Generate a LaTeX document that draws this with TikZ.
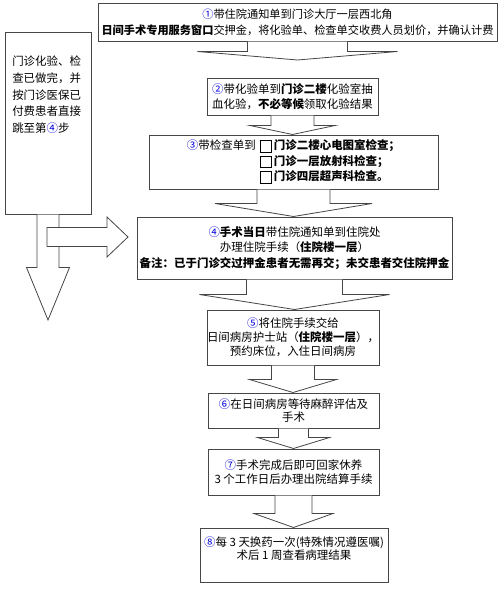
\documentclass[tikz,border=0pt]{standalone}
\usepackage{fontspec}
\setmainfont{Noto Sans CJK SC}
\usepackage{xcolor}
\usepackage{tikz}
\usetikzlibrary{calc}
\definecolor{linegray}{RGB}{70, 70, 70}
\definecolor{numblue}{RGB}{0, 0, 220}
\tikzset{
    box/.style = {rectangle, draw=linegray, fill=white, line width=0.75pt, align=center, inner sep=0pt,
                  font=\fontsize{8.6}{11.6}\selectfont},
    sidebox/.style = {rectangle, draw=linegray, fill=white, line width=0.75pt},
    sidetext/.style = {align=left, inner sep=0pt, font=\fontsize{8.6}{12.5}\selectfont},
    blockarrow/.style = {draw=linegray, fill=white, line width=0.6pt, line join=miter}
}
\newcommand{\num}[1]{\textcolor{numblue}{#1}}
\newcommand{\ckbox}{{\setlength{\fboxsep}{0pt}\setlength{\fboxrule}{0.6pt}\raisebox{-1.5pt}{\fbox{\rule{0pt}{8pt}\rule{8pt}{0pt}}}}}
% block arrow: from, to, shaft half width, head half width, shaft length (px)
\newcommand{\bigarrow}[5]{%
  \draw[blockarrow] let \p1 = (#1.south), \p2 = (#2) in
    ({\x1-#3*0.75pt},\y1) -- ({\x1-#3*0.75pt},{\y1-#5*0.75pt})
    -- ({\x1-#4*0.75pt},{\y1-#5*0.75pt}) -- (\x1,\y2)
    -- ({\x1+#4*0.75pt},{\y1-#5*0.75pt}) -- ({\x1+#3*0.75pt},{\y1-#5*0.75pt})
    -- ({\x1+#3*0.75pt},\y1);}

\begin{document}
\begin{tikzpicture}[x=0.75pt, y=-0.75pt]
\useasboundingbox (0,0) rectangle (500,590);

\node (b1) [box, minimum width=299.25pt, minimum height=28.5pt, font=\fontsize{8.4}{12}\selectfont] at (297.5,22)
  {\num{①}带住院通知单到门诊大厅一层西北角\\ \textbf{日间手术专用服务窗口}交押金，将化验单、检查单交收费人员划价，并确认计费};
\node (b2) [box, minimum width=128.25pt, minimum height=27.75pt] at (292.5,96.5)
  {\num{②}带化验单到\textbf{门诊二楼}化验室抽\\ 血化验，\textbf{不必等候}领取化验结果};
\node (b3) [box, minimum width=216.75pt, minimum height=40.5pt] at (293.5,162)
  {\renewcommand{\arraystretch}{1.0}\begin{tabular}{@{}r@{\hspace{3pt}}l@{}}
   \num{③}带检查单到 & \ckbox\,\textbf{门诊二楼心电图室检查；}\\
   & \ckbox\,\textbf{门诊一层放射科检查；}\\
   & \ckbox\,\textbf{门诊四层超声科检查。}
   \end{tabular}};
\node (b4) [box, minimum width=236.25pt, minimum height=46.5pt] at (294.5,248)
  {\num{④}\textbf{手术当日}带住院通知单到住院处\\ 办理住院手续（\textbf{住院楼一层}）\\
   \textbf{备注：已于门诊交过押金患者无需再交；未交患者交住院押金}};
\node (b5) [box, minimum width=129pt, minimum height=41.25pt, font=\fontsize{8.6}{10.5}\selectfont] at (293,337.5)
  {\num{⑤}将住院手续交给\\ 日间病房护士站（\textbf{住院楼一层}），\\ 预约床位，入住日间病房};
\node (b6) [box, minimum width=128.25pt, minimum height=26.25pt, font=\fontsize{8.6}{9.5}\selectfont] at (293.5,410.5)
  {\num{⑥}在日间病房等待麻醉评估及\\ 手术};
\node (b7) [box, minimum width=128.25pt, minimum height=34.5pt, font=\fontsize{8.6}{10}\selectfont] at (293.5,472)
  {\num{⑦}手术完成后即可回家休养\\ 3 个工作日后办理出院结算手续};
\node (b8) [box, minimum width=141pt, minimum height=40.5pt, font=\fontsize{8.6}{10}\selectfont] at (294,555)
  {\num{⑧}每 3 天换药一次(特殊情况遵医嘱)\\ 术后 1 周查看病理结果\\ ~};

\node (side) [sidebox, minimum width=64.5pt, minimum height=136.5pt] at (48,123) {};
\node (sidetxt) [sidetext, anchor=north west] at (12,56)
  {门诊化验、检\\ 查已做完，并\\ 按门诊医保已\\ 付费患者直接\\ 跳至第\num{④}步};

\coordinate (t1) at (295,60);
\coordinate (t2) at (48,320);
\coordinate (r0) at (47,237);
\coordinate (r1) at (128,237);

\bigarrow{b1}{t1}{50}{100}{10}
\bigarrow{b2}{b3.north}{21.5}{42.5}{10}
\bigarrow{b3}{b4.north}{36.5}{78.5}{14}
\bigarrow{b4}{b5.north}{48}{95}{15}
\bigarrow{b5}{b6.north}{21.5}{43.5}{14}
\bigarrow{b6}{b7.north}{15}{36}{9}
\bigarrow{b7}{b8.north}{18.5}{39.5}{18}
\bigarrow{side}{t2}{11}{21.5}{53}
\draw[blockarrow] (r0) ++(0,-9.5) -- ++(60,0) -- ++(0,-10.5) -- (r1) -- ++(-21,20)
  -- ++(0,-10.5) -- ++(-60,0) -- cycle;
\end{tikzpicture}
\end{document}
